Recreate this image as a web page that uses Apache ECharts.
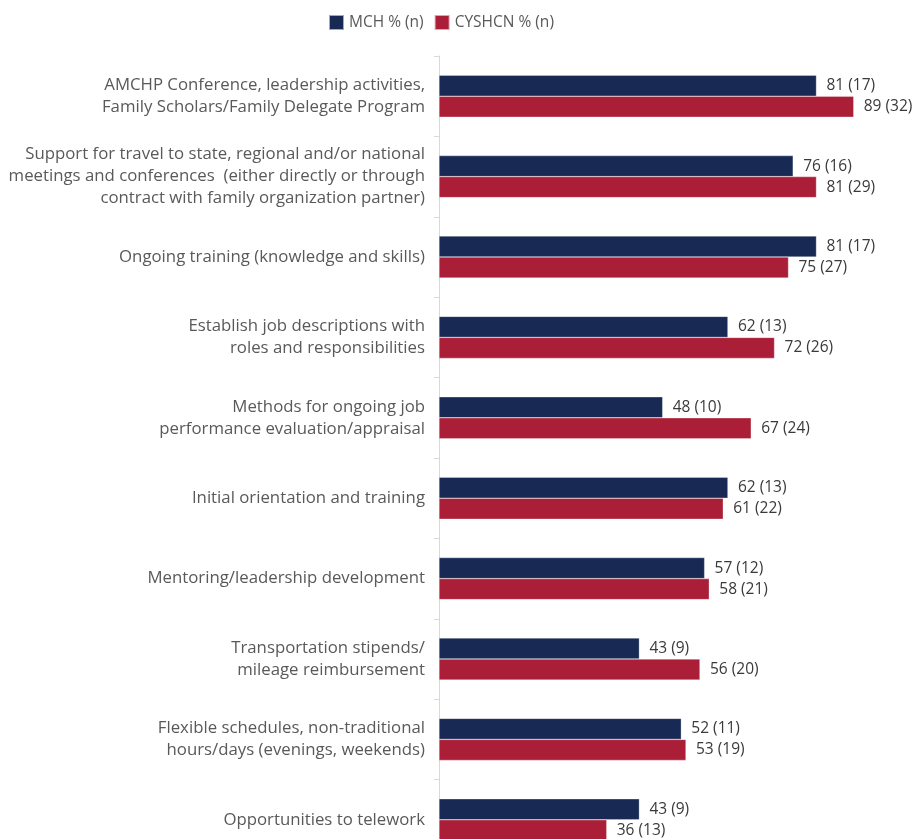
<!DOCTYPE html>
<html>
<head>
<meta charset="utf-8">
<script src="https://cdn.jsdelivr.net/npm/echarts@6/dist/echarts.min.js"></script>
<style>html,body{margin:0;padding:0;background:#fff}#c{width:917px;height:839px}</style>
</head>
<body>
<div id="c"></div>
<script>
const categories = [
  "AMCHP Conference, leadership activities,\nFamily Scholars/Family Delegate Program",
  "Support for travel to state, regional and/or national\nmeetings and conferences  (either directly or through\ncontract with family organization partner)",
  "Ongoing training (knowledge and skills)",
  "Establish job descriptions with\nroles and responsibilities",
  "Methods for ongoing job\nperformance evaluation/appraisal",
  "Initial orientation and training",
  "Mentoring/leadership development",
  "Transportation stipends/\nmileage reimbursement",
  "Flexible schedules, non-traditional\nhours/days (evenings, weekends)",
  "Opportunities to telework"
];
const mchPct = [81, 76, 81, 62, 48, 62, 57, 43, 52, 43];
const mchN   = [17, 16, 17, 13, 10, 13, 12, 9, 11, 9];
const cyPct  = [89, 81, 75, 72, 67, 61, 58, 56, 53, 36];
const cyN    = [32, 29, 27, 26, 24, 22, 21, 20, 19, 13];

const FONT = '"Open Sans", Lato, sans-serif';
const chart = echarts.init(document.getElementById('c'), null, {renderer: 'canvas'});
function lbl(nArr) {
  return {
    show: true, position: 'right', distance: 10,
    color: '#3a3a3a', fontSize: 15.5, fontFamily: FONT,
    formatter: p => p.value + ' (' + nArr[p.dataIndex] + ')'
  };
}
chart.setOption({
  animation: false,
  legend: {
    top: 14, left: 328, padding: 0, itemWidth: 15, itemHeight: 15, itemGap: 10,
    icon: 'rect',
    textStyle: {color: '#595959', fontSize: 15.5, fontFamily: FONT, padding: [0, 0, 0, 0]},
    data: ['MCH % (n)', 'CYSHCN % (n)']
  },
  grid: {left: 439, top: 56, width: 466, height: 804, containLabel: false, outerBoundsMode: 'none'},
  xAxis: {type: 'value', min: 0, max: 100, show: false},
  yAxis: {
    type: 'category', inverse: true, data: categories,
    axisLine: {show: true, lineStyle: {color: '#d9d9d9', width: 1}},
    axisTick: {show: true, length: 5, lineStyle: {color: '#d9d9d9'}},
    axisLabel: {color: '#595959', fontSize: 16.8, fontFamily: FONT, lineHeight: 22, margin: 14, align: 'right'}
  },
  series: [
    {
      name: 'MCH % (n)', type: 'bar', data: mchPct, barWidth: 21, barGap: '0%',
      itemStyle: {color: '#182a54', borderColor: 'rgba(255,255,255,0.6)', borderWidth: 0.5},
      label: lbl(mchN)
    },
    {
      name: 'CYSHCN % (n)', type: 'bar', data: cyPct, barWidth: 21,
      itemStyle: {color: '#aa1f37', borderColor: 'rgba(255,255,255,0.6)', borderWidth: 0.5},
      label: lbl(cyN)
    }
  ]
});
</script>
</body>
</html>
